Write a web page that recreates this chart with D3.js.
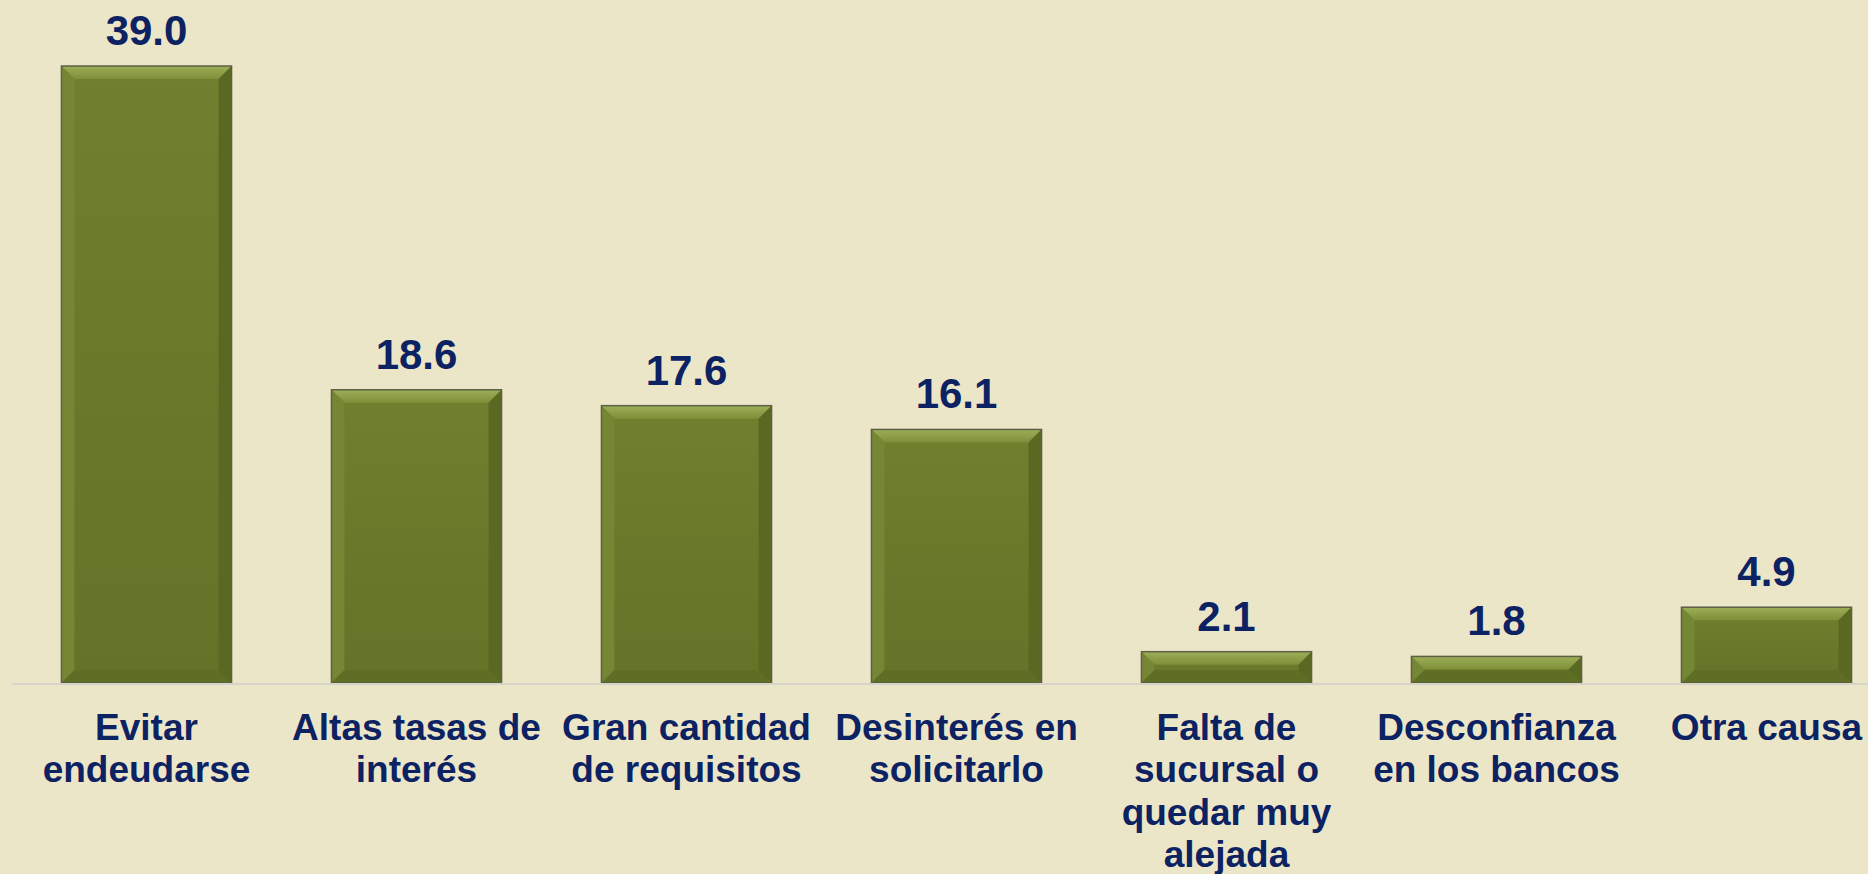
<!DOCTYPE html>
<html><head><meta charset="utf-8">
<script src="https://cdn.jsdelivr.net/npm/d3@7"></script>
<style>html,body{margin:0;padding:0;background:#ECE6C9;}svg{display:block;}</style>
</head><body>
<script>
const categories = ["Evitar endeudarse","Altas tasas de interés","Gran cantidad de requisitos","Desinterés en solicitarlo","Falta de sucursal o quedar muy alejada","Desconfianza en los bancos","Otra causa"];
const values = [39.0, 18.6, 17.6, 16.1, 2.1, 1.8, 4.9];
const valueLabels = ["39.0","18.6","17.6","16.1","2.1","1.8","4.9"];

const W = 1868, H = 874;
const svg = d3.select("body").append("svg").attr("width", W).attr("height", H);
svg.append("rect").attr("width", W).attr("height", H).attr("fill", "#ECE6C9");

const x = d3.scaleBand().domain(categories).range([11.5, 1901.5]).paddingInner(0.37).paddingOuter(0.185);
const y = d3.scaleLinear().domain([0, 39]).range([685, 66]);
const base = 683;

const defs = svg.append("defs");
const g1 = defs.append("linearGradient").attr("id","face").attr("x1",0).attr("y1",0).attr("x2",0).attr("y2",1);
g1.append("stop").attr("offset","0%").attr("stop-color","#6F802E");
g1.append("stop").attr("offset","100%").attr("stop-color","#637328");
const g2 = defs.append("linearGradient").attr("id","topb").attr("x1",0).attr("y1",0).attr("x2",0).attr("y2",1);
g2.append("stop").attr("offset","0%").attr("stop-color","#9DAE58");
g2.append("stop").attr("offset","100%").attr("stop-color","#7E8F39");

const bars = svg.append("g").selectAll("g").data(categories).join("g");
const bv = 13;
bars.each(function(c, i){
  const g = d3.select(this);
  const x0 = x(c), x1 = x(c) + x.bandwidth();
  const y0 = y(values[i]), y1 = base;
  const b = Math.min(bv, (y1 - y0) / 2);
  g.append("rect").attr("x", x0).attr("y", y0).attr("width", x1 - x0).attr("height", y1 - y0).attr("fill", "url(#face)");
  const poly = pts => g.append("polygon").attr("points", pts.map(p => p.join(",")).join(" "));
  poly([[x0,y0],[x1,y0],[x1-b,y0+b],[x0+b,y0+b]]).attr("fill","url(#topb)");
  poly([[x0,y0],[x0+b,y0+b],[x0+b,y1-b],[x0,y1]]).attr("fill","#758634");
  poly([[x1,y0],[x1,y1],[x1-b,y1-b],[x1-b,y0+b]]).attr("fill","#5A6922");
  poly([[x0,y1],[x0+b,y1-b],[x1-b,y1-b],[x1,y1]]).attr("fill","#5F6E25");
  g.append("rect").attr("x", x0).attr("y", y0).attr("width", x1 - x0).attr("height", y1 - y0)
    .attr("fill","none").attr("stroke","#5E5F45").attr("stroke-width",1.5);
});

svg.append("line").attr("x1", 12).attr("x2", W).attr("y1", base + 1).attr("y2", base + 1)
  .attr("stroke", "#D6D4C8").attr("stroke-width", 2);

svg.append("g").selectAll("text").data(categories).join("text")
  .attr("x", c => x(c) + x.bandwidth()/2)
  .attr("y", (c, i) => y(values[i]) - 21)
  .attr("text-anchor","middle")
  .attr("font-family","Liberation Sans, Arial, sans-serif").attr("font-weight","bold")
  .attr("font-size", 42).attr("fill","#0C2262")
  .text((c, i) => valueLabels[i]);

const labels = svg.append("g").selectAll("text").data(categories).join("text")
  .attr("text-anchor","middle")
  .attr("font-family","Liberation Sans, Arial, sans-serif").attr("font-weight","bold")
  .attr("font-size", 37).attr("fill","#0C2262");
labels.each(function(c){
  const t = d3.select(this);
  const cx = x(c) + x.bandwidth()/2;
  const words = c.split(" ");
  let lines = [], cur = [];
  const probe = t.append("tspan");
  words.forEach(w => {
    const test = cur.concat([w]).join(" ");
    probe.text(test);
    if (probe.node().getComputedTextLength() > 266 && cur.length) { lines.push(cur.join(" ")); cur = [w]; }
    else cur.push(w);
  });
  lines.push(cur.join(" "));
  probe.remove();
  lines.forEach((l, k) => t.append("tspan").attr("x", cx).attr("y", 740 + k*42.3).text(l));
});
</script>
</body></html>
